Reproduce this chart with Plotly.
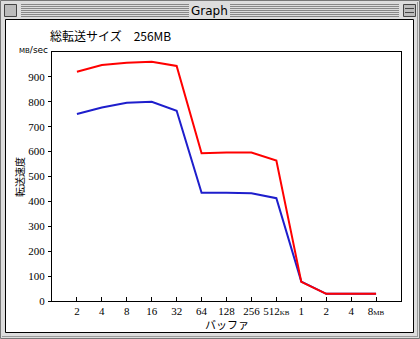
import plotly.graph_objects as go

# ---- data ----
categories = ["2", "4", "8", "16", "32", "64", "128", "256", "512KB", "1", "2", "4", "8MB"]
tick_text = ["2", "4", "8", "16", "32", "64", "128", "256",
             "512<span style='font-size:7px'>KB</span>", "1", "2", "4",
             "8<span style='font-size:7px'>MB</span>"]
red_vals = [921, 948, 957, 961, 944, 593, 596, 596, 564, 77, 29, 29, 29]
blue_vals = [751, 777, 796, 800, 764, 435, 435, 433, 413, 78, 29, 29, 29]
y_ticks = [0, 100, 200, 300, 400, 500, 600, 700, 800, 900]

W, H = 420, 339
L, R, T, B = 52, 401, 52, 301  # plot area in pixels


def px(x):
    return (x - L) / (R - L)


def py(y):
    return (B - y) / (B - T)


xpos = list(range(1, len(categories) + 1))

fig = go.Figure()
fig.add_trace(go.Scatter(x=xpos, y=blue_vals, mode="lines",
                         line=dict(color="#1e1ecc", width=2), hoverinfo="skip"))
fig.add_trace(go.Scatter(x=xpos, y=red_vals, mode="lines",
                         line=dict(color="#ff0000", width=2), hoverinfo="skip"))

shapes = []
# window content area (white) with black border
shapes.append(dict(type="rect", xref="paper", yref="paper", layer="below",
                   x0=px(5.5), x1=px(413.5), y0=py(19.5), y1=py(332.5),
                   fillcolor="white", line=dict(color="black", width=1)))
# outer window frame
shapes.append(dict(type="rect", xref="paper", yref="paper", layer="below",
                   x0=px(0.5), x1=px(419.5), y0=py(0.5), y1=py(338.5),
                   fillcolor="rgba(0,0,0,0)", line=dict(color="#777777", width=1)))
# shadow lines right/bottom
shapes.append(dict(type="line", xref="paper", yref="paper", x0=px(417.5), x1=px(417.5),
                   y0=py(2), y1=py(337), line=dict(color="#999999", width=1)))
shapes.append(dict(type="line", xref="paper", yref="paper", x0=px(2), x1=px(418),
                   y0=py(336.5), y1=py(336.5), line=dict(color="#999999", width=1)))
# title bar stripes
for yy in [4.5, 6.5, 8.5, 10.5, 12.5, 14.5, 16.5]:
    shapes.append(dict(type="line", xref="paper", yref="paper", x0=px(21), x1=px(189),
                       y0=py(yy), y1=py(yy), line=dict(color="#888888", width=1)))
    shapes.append(dict(type="line", xref="paper", yref="paper", x0=px(230), x1=px(399),
                       y0=py(yy), y1=py(yy), line=dict(color="#888888", width=1)))
# close box and zoom box
for x0 in [4.5, 403.5]:
    shapes.append(dict(type="rect", xref="paper", yref="paper",
                       x0=px(x0), x1=px(x0 + 12), y0=py(4.5), y1=py(16.5),
                       fillcolor="#bbbbbb", line=dict(color="#444444", width=1)))
shapes.append(dict(type="line", xref="paper", yref="paper", x0=px(405), x1=px(414),
                   y0=py(8.5), y1=py(8.5), line=dict(color="#444444", width=1)))
shapes.append(dict(type="line", xref="paper", yref="paper", x0=px(405), x1=px(414),
                   y0=py(12.5), y1=py(12.5), line=dict(color="#444444", width=1)))

cjk = "Noto Sans CJK JP"
annotations = [
    dict(text="Graph", x=px(209.5), y=py(11), xref="paper", yref="paper",
         showarrow=False, xanchor="center", yanchor="middle",
         font=dict(family="DejaVu Sans", size=12, color="black")),
    dict(text="総転送サイズ　256MB", x=px(48), y=py(35), xref="paper", yref="paper",
         showarrow=False, xanchor="left", yanchor="middle",
         font=dict(family=cjk, size=12, color="black")),
    dict(text="<span style='font-size:7px'>MB</span>/sec", x=px(50), y=py(50),
         xref="paper", yref="paper", showarrow=False, xanchor="right", yanchor="middle",
         font=dict(family="DejaVu Sans", size=9, color="black")),
    dict(text="転送速度", x=px(19), y=py(177), xref="paper", yref="paper",
         showarrow=False, xanchor="center", yanchor="middle", textangle=-90,
         font=dict(family=cjk, size=10, color="black")),
    dict(text="バッファ", x=px(226.5), y=py(323.5), xref="paper", yref="paper",
         showarrow=False, xanchor="center", yanchor="middle",
         font=dict(family=cjk, size=11, color="black")),
]

fig.update_layout(
    width=W, height=H,
    margin=dict(l=L, r=W - R, t=T, b=H - B, pad=0),
    paper_bgcolor="#dddddd",
    plot_bgcolor="white",
    showlegend=False,
    shapes=shapes,
    annotations=annotations,
    xaxis=dict(range=[0, 14], tickmode="array", tickvals=xpos, ticktext=tick_text,
               ticks="inside", ticklen=4, tickcolor="black", showgrid=False,
               zeroline=False, showline=True, linecolor="black", linewidth=1,
               mirror=True, tickfont=dict(family="Liberation Serif", size=11, color="black")),
    yaxis=dict(range=[0, 1000], tickmode="array", tickvals=y_ticks,
               ticks="outside", ticklen=3, tickcolor="black", showgrid=False,
               zeroline=False, showline=True, linecolor="black", linewidth=1,
               mirror=True, ticklabelstandoff=1,
               tickfont=dict(family="Liberation Serif", size=11, color="black")),
)

fig.write_html("out.html")
